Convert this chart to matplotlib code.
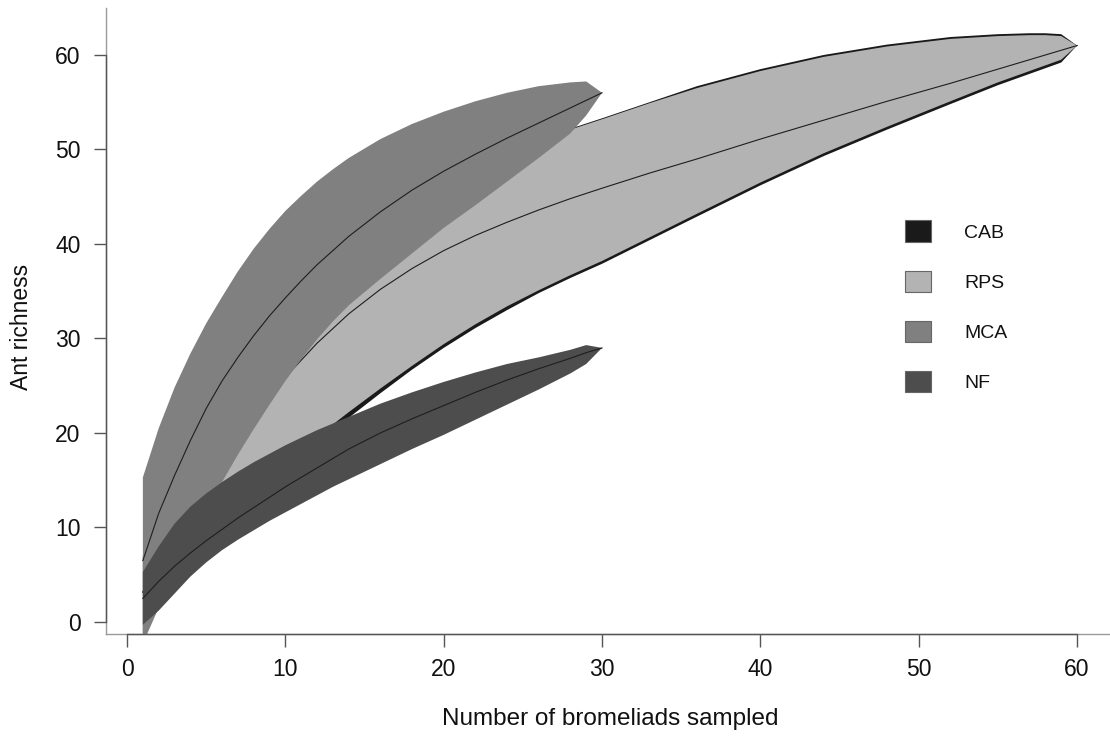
import matplotlib
matplotlib.use('Agg')
import matplotlib.pyplot as plt
from matplotlib.patches import Patch

plt.rcParams['font.family'] = ['Liberation Sans', 'DejaVu Sans']

# ---------------- data ----------------
labels = ['CAB', 'RPS', 'MCA', 'NF']
colors = ['#1a1a1a', '#b3b3b3', '#808080', '#4d4d4d']

x_long = [1, 2, 3, 4, 5, 6, 7, 8, 9, 10, 12, 14, 16, 18, 20, 22, 24, 26, 28, 30,
          33, 36, 40, 44, 48, 52, 55, 57, 58, 59, 60]
x_short = [1, 2, 3, 4, 5, 6, 7, 8, 9, 10, 11, 12, 13, 14, 16, 18, 20, 22, 24,
           26, 28, 29, 30]

cab_mean = [3.1, 6.4, 9.5, 12.3, 14.9, 17.4, 19.7, 21.8, 23.9, 25.8, 29.4, 32.5,
            35.1, 37.3, 39.2, 40.8, 42.2, 43.5, 44.7, 45.8, 47.4, 48.9, 51.0,
            53.0, 55.0, 56.9, 58.4, 59.4, 59.9, 60.4, 61.0]
cab_lower = [-1.3, 1.5, 4.0, 6.3, 8.4, 10.3, 12.0, 13.5, 15.0, 16.4, 19.0, 21.6,
             24.2, 26.7, 29.0, 31.1, 33.0, 34.8, 36.4, 37.9, 40.4, 42.9, 46.2,
             49.3, 52.1, 54.8, 56.8, 58.0, 58.6, 59.2, 61.0]
cab_upper = [7.0, 11.5, 15.5, 19.0, 22.0, 24.8, 27.3, 29.6, 31.8, 33.8, 37.5,
             40.6, 43.3, 45.6, 47.5, 49.0, 50.2, 51.2, 52.2, 53.3, 55.0, 56.7,
             58.5, 60.0, 61.1, 61.9, 62.2, 62.3, 62.3, 62.2, 61.0]

rps_mean = [3.2, 6.5, 9.6, 12.4, 15.0, 17.5, 19.8, 21.9, 24.0, 25.9, 29.5, 32.6,
            35.2, 37.4, 39.3, 40.9, 42.3, 43.6, 44.8, 45.9, 47.5, 49.0, 51.1,
            53.1, 55.1, 57.0, 58.5, 59.5, 60.0, 60.5, 61.0]
rps_lower = [-1.0, 1.8, 4.3, 6.6, 8.7, 10.6, 12.3, 13.9, 15.4, 16.9, 19.6, 22.2,
             24.7, 27.1, 29.4, 31.5, 33.4, 35.1, 36.7, 38.2, 40.7, 43.2, 46.5,
             49.6, 52.4, 55.1, 57.1, 58.3, 58.9, 59.5, 61.0]
rps_upper = [7.0, 11.5, 15.5, 19.0, 22.0, 24.8, 27.3, 29.6, 31.8, 33.8, 37.5,
             40.6, 43.3, 45.6, 47.5, 49.0, 50.2, 51.2, 52.1, 53.2, 54.9, 56.5,
             58.3, 59.8, 60.9, 61.7, 62.0, 62.1, 62.1, 62.0, 61.0]

mca_mean = [6.5, 11.5, 15.5, 19.2, 22.6, 25.5, 28.0, 30.3, 32.4, 34.3, 36.1,
            37.8, 39.3, 40.8, 43.4, 45.7, 47.7, 49.5, 51.2, 52.8, 54.4, 55.2,
            56.0]
mca_lower = [-2.3, 1.5, 5.0, 8.5, 11.8, 14.8, 17.7, 20.4, 23.0, 25.5, 27.8,
             29.9, 31.8, 33.5, 36.3, 39.0, 41.7, 44.1, 46.6, 49.1, 51.7, 53.6,
             56.0]
mca_upper = [15.3, 20.5, 24.8, 28.4, 31.6, 34.4, 37.1, 39.5, 41.6, 43.5, 45.1,
             46.6, 47.9, 49.1, 51.1, 52.7, 54.0, 55.1, 56.0, 56.7, 57.1, 57.2,
             56.0]

nf_mean = [2.5, 4.3, 5.9, 7.3, 8.6, 9.8, 11.0, 12.1, 13.2, 14.3, 15.3, 16.3,
           17.3, 18.3, 20.0, 21.5, 22.9, 24.3, 25.6, 26.8, 27.9, 28.5, 29.0]
nf_lower = [-0.3, 1.2, 3.0, 4.8, 6.3, 7.6, 8.7, 9.7, 10.7, 11.6, 12.5, 13.4,
            14.3, 15.1, 16.7, 18.3, 19.8, 21.4, 23.0, 24.6, 26.3, 27.3, 29.0]
nf_upper = [5.3, 8.0, 10.4, 12.2, 13.6, 14.8, 15.9, 16.9, 17.8, 18.7, 19.5,
            20.3, 21.0, 21.7, 23.1, 24.3, 25.4, 26.4, 27.3, 28.0, 28.8, 29.3,
            29.0]

x_ticks = [0, 10, 20, 30, 40, 50, 60]
y_ticks = [0, 10, 20, 30, 40, 50, 60]

# ---------------- figure ----------------
W, H = 1110, 737
fig = plt.figure(figsize=(W / 100, H / 100), dpi=100)
ax = fig.add_axes([105.5 / W, 103.5 / H, 1008.9 / W, 625.2 / H])
xlim = (-1.36, 62.36)
ylim = (-1.22, 64.94)
ax.set_xlim(*xlim)
ax.set_ylim(*ylim)

series = [
    (x_long, cab_mean, cab_lower, cab_upper),
    (x_long, rps_mean, rps_lower, rps_upper),
    (x_short, mca_mean, mca_lower, mca_upper),
    (x_short, nf_mean, nf_lower, nf_upper),
]
for i, ((xs, m, lo, up), c) in enumerate(zip(series, colors)):
    ax.fill_between(xs, lo, up, facecolor=c, edgecolor='none', linewidth=0,
                    zorder=2 + i)
    ax.plot(xs, m, color='#1e1e1e', linewidth=0.8, zorder=2.5 + i)

# axes styling (R-like L box)
for s in ['top', 'right']:
    ax.spines[s].set_visible(False)
for s in ['left', 'bottom']:
    ax.spines[s].set_color('#9a9a9a')
    ax.spines[s].set_linewidth(1.0)
ax.axhline(ylim[0], xmin=(x_ticks[0] - xlim[0]) / (xlim[1] - xlim[0]),
           xmax=(x_ticks[-1] - xlim[0]) / (xlim[1] - xlim[0]),
           color='#555555', lw=1.0, clip_on=False, zorder=10)
ax.axvline(xlim[0], ymin=(y_ticks[0] - ylim[0]) / (ylim[1] - ylim[0]),
           ymax=(y_ticks[-1] - ylim[0]) / (ylim[1] - ylim[0]),
           color='#555555', lw=1.0, clip_on=False, zorder=10)

ax.set_xticks(x_ticks)
ax.set_yticks(y_ticks)
ax.tick_params(axis='both', direction='out', length=9, width=1.0,
               color='#555555', labelsize=16.5, labelcolor='#111111')
ax.tick_params(axis='x', pad=9)
ax.tick_params(axis='y', pad=9)

ax.set_xlabel('Number of bromeliads sampled', fontsize=17.5, color='#111111')
ax.set_ylabel('Ant richness', fontsize=16.5, color='#111111')
ax.xaxis.set_label_coords(0.5, (633.5 - 708) / 625.2)
ax.yaxis.set_label_coords((33 - 105.5) / 1008.9, (633.5 - 327) / 625.2)

handles = [Patch(facecolor=c, edgecolor='#666666', linewidth=0.8) for c in colors]
fs = 14
em = fs * 100 / 72
leg = ax.legend(handles, labels, loc='upper left',
                bbox_to_anchor=(905 / W, 1 - 220.5 / H),
                bbox_transform=fig.transFigure, frameon=False, fontsize=fs,
                handlelength=26 / em, handleheight=25 / em,
                handletextpad=33 / em, labelspacing=29 / em, borderpad=0,
                borderaxespad=0)
for t in leg.get_texts():
    t.set_color('#111111')

fig.savefig('out.png', dpi=100)
